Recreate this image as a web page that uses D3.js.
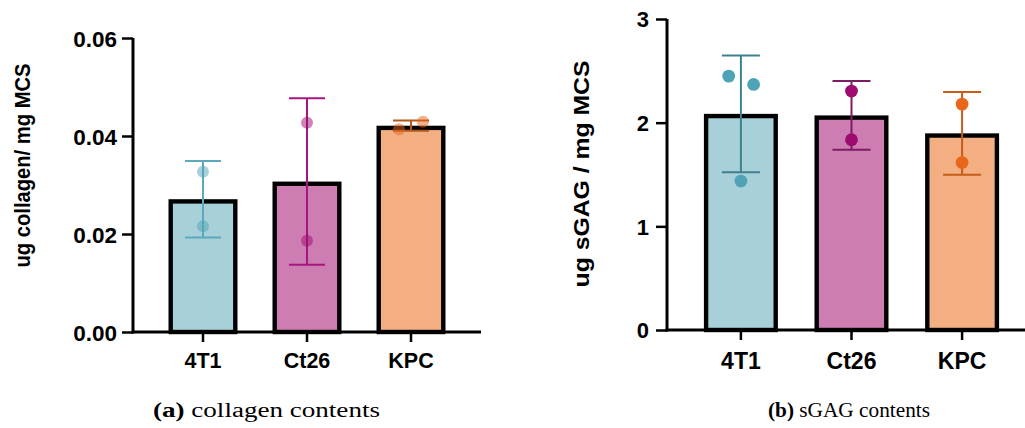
<!DOCTYPE html>
<html>
<head>
<meta charset="utf-8">
<script src="https://cdn.jsdelivr.net/npm/d3@7"></script>
<style>
  html, body { margin: 0; padding: 0; background: #fff; }
  svg { display: block; }
  .tick text, .ylab { font-family: "Liberation Sans", Arial, sans-serif; font-weight: bold; fill: #000; }
  .caption { font-family: "Liberation Serif", "Times New Roman", serif; fill: #000; }
</style>
</head>
<body>
<svg id="chart" width="1025" height="428"></svg>
<script>
// Cell lines
const categories = ["4T1", "Ct26", "KPC"];

// Collagen content (ug collagen / mg MCS): mean, SD and replicate values
const collagenMean = [0.0271, 0.0307, 0.0421];
const collagenSD = [0.0078, 0.0170, 0.00105];
const collagenPoints = [[0.0327, 0.0216], [0.0427, 0.0186], [0.0414, 0.0429]];
const collagenTicks = [0, 0.02, 0.04, 0.06];

// sGAG content (ug sGAG / mg MCS): mean, SD and replicate values
const sgagMean = [2.085, 2.070, 1.897];
const sgagSD = [0.564, 0.332, 0.400];
const sgagPoints = [[2.449, 2.369, 1.437], [2.305, 1.835], [2.179, 1.615]];
const sgagTicks = [0, 1, 2, 3];

// Horizontal spread of replicate dots, in fractions of the band step
const collagenJitter = [[0, 0], [0, 0], [-0.115, 0.115]];
const sgagJitter = [[-0.11, 0.115, 0], [0, 0], [0, 0]];

// Colours per cell line
const barFill = ["#a7d0d8", "#cd7db2", "#f3af81"];
const dotColor = ["#4fa3b6", "#9e0a70", "#e8661a"];
const errColorA = ["#5aaabb", "#a5167f", "#b5561b"];
const errColorB = ["#3e808e", "#7c1c62", "#c65b1c"];

const svg = d3.select("#chart");

function panel(opt) {
  const g = svg.append("g");
  const y = d3.scaleLinear().domain(opt.domain).range([opt.y0, opt.y1]);
  const x = d3.scaleBand().domain(categories)
    .range([opt.xStart, opt.xStart + opt.step * categories.length])
    .paddingInner(0).paddingOuter(0);
  const cx = c => x(c) + x.bandwidth() / 2;

  // bars (stroke drawn inside the bar outline)
  const sw = 4.4;
  g.selectAll("rect.bar").data(categories).enter().append("rect")
    .attr("class", "bar")
    .attr("x", c => cx(c) - opt.barW / 2 + sw / 2)
    .attr("width", opt.barW - sw)
    .attr("y", (c, i) => y(opt.mean[i]) + sw / 2)
    .attr("height", (c, i) => y(0) - y(opt.mean[i]) - sw / 2)
    .attr("fill", (c, i) => barFill[i])
    .attr("stroke", "#000")
    .attr("stroke-width", sw);

  // error bars (mean ± SD)
  categories.forEach((c, i) => {
    const hi = y(opt.mean[i] + opt.sd[i]);
    const lo = y(opt.mean[i] - opt.sd[i]);
    const eg = g.append("g").attr("stroke", opt.errColor[i]).attr("stroke-width", 2).attr("fill", "none");
    eg.append("line").attr("x1", cx(c)).attr("x2", cx(c)).attr("y1", hi).attr("y2", lo);
    eg.append("line").attr("x1", cx(c) - opt.capW / 2).attr("x2", cx(c) + opt.capW / 2).attr("y1", hi).attr("y2", hi);
    eg.append("line").attr("x1", cx(c) - opt.capW / 2).attr("x2", cx(c) + opt.capW / 2).attr("y1", lo).attr("y2", lo);
  });

  // replicate points
  categories.forEach((c, i) => {
    g.selectAll(null).data(opt.points[i]).enter().append("circle")
      .attr("cx", (v, j) => cx(c) + opt.jitter[i][j] * opt.step)
      .attr("cy", v => y(v))
      .attr("r", opt.r)
      .attr("fill", dotColor[i])
      .attr("fill-opacity", opt.dotOpacity);
  });

  // y axis
  const yAxis = d3.axisLeft(y).tickValues(opt.ticks).tickFormat(opt.fmt).tickSize(11).tickPadding(opt.yPad);
  const ya = g.append("g").attr("transform", `translate(${opt.axisX},0)`).call(yAxis);
  ya.select(".domain").attr("stroke", "#000").attr("stroke-width", 3)
    .attr("d", `M0,${opt.y0 + 1.5}V${opt.y1}`);
  ya.selectAll(".tick line").attr("stroke", "#000").attr("stroke-width", 2.5);
  ya.selectAll(".tick text").attr("font-size", opt.yFont).attr("dy", "0.36em");

  // x axis
  const xAxis = d3.axisBottom(x).tickSize(10).tickPadding(opt.xPad);
  const xa = g.append("g").attr("transform", `translate(0,${opt.y0})`).call(xAxis);
  xa.select(".domain").attr("stroke", "#000").attr("stroke-width", 3)
    .attr("d", `M${opt.axisX - 1.5},0H${opt.xEnd}`);
  xa.selectAll(".tick line").attr("stroke", "#000").attr("stroke-width", 2.5);
  xa.selectAll(".tick text").attr("font-size", opt.xFont);

  // y axis title
  g.append("text").attr("class", "ylab")
    .attr("transform", `translate(${opt.titleX},${opt.titleY}) rotate(-90)`)
    .attr("text-anchor", "middle")
    .attr("font-size", opt.titleFont)
    .attr("textLength", opt.titleLen).attr("lengthAdjust", "spacingAndGlyphs")
    .text(opt.yTitle);

  // caption
  const cap = g.append("text").attr("class", "caption")
    .attr("x", opt.capX).attr("y", 417).attr("text-anchor", "middle").attr("font-size", opt.capFont)
    .attr("textLength", opt.capLen).attr("lengthAdjust", "spacingAndGlyphs");
  cap.append("tspan").attr("font-weight", "bold").text(opt.capLabel);
  cap.append("tspan").text(" " + opt.capText);
}

panel({
  domain: [0, 0.06], y0: 332, y1: 38,
  xStart: 151, step: 104, barW: 69, capW: 36, xEnd: 481, axisX: 133,
  mean: collagenMean, sd: collagenSD, points: collagenPoints, jitter: collagenJitter,
  errColor: errColorA, dotOpacity: 0.5, r: 6,
  ticks: collagenTicks, fmt: d3.format(".2f"), yFont: 22.5, yPad: 5,
  xFont: 21.5, xPad: 11,
  yTitle: "ug collagen/ mg MCS", titleX: 29.5, titleY: 165.5, titleFont: 22, titleLen: 204,
  capX: 266.5, capLen: 227, capFont: 20, capLabel: "(a)", capText: "collagen contents"
});

panel({
  domain: [0, 3], y0: 330, y1: 19,
  xStart: 685.6, step: 110.6, barW: 74, capW: 38, xEnd: 1025, axisX: 667,
  mean: sgagMean, sd: sgagSD, points: sgagPoints, jitter: sgagJitter,
  errColor: errColorB, dotOpacity: 1, r: 6.4,
  ticks: sgagTicks, fmt: d3.format("d"), yFont: 22, yPad: 7,
  xFont: 23, xPad: 13,
  yTitle: "ug sGAG / mg MCS", titleX: 589, titleY: 174, titleFont: 22, titleLen: 227,
  capX: 849, capLen: 162, capFont: 21, capLabel: "(b)", capText: "sGAG contents"
});
</script>
</body>
</html>
